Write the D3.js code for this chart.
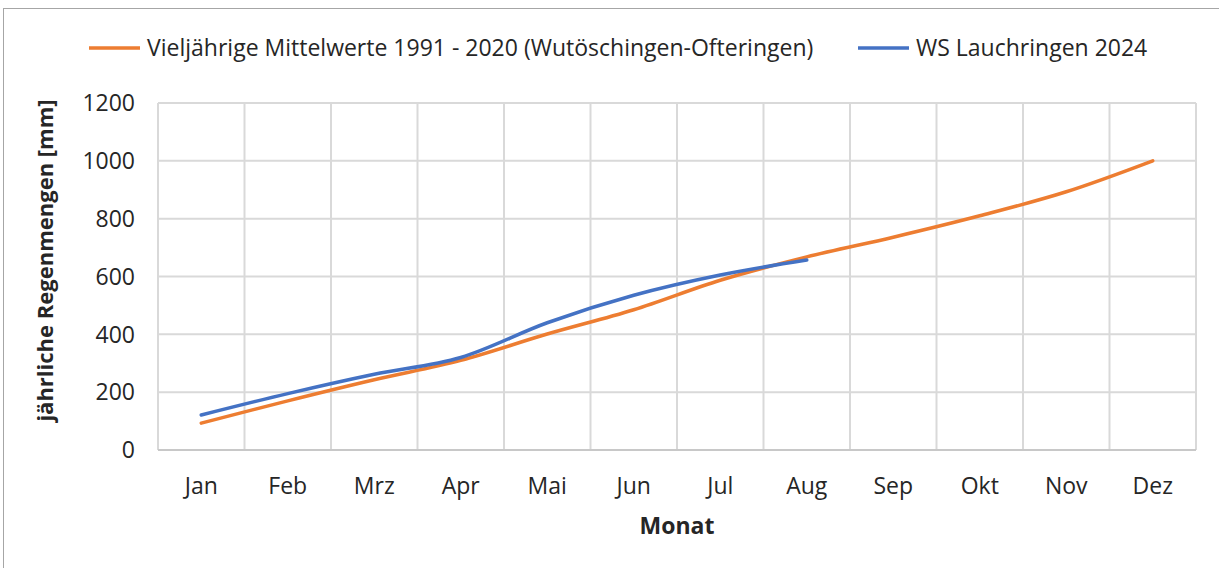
<!DOCTYPE html>
<html>
<head>
<meta charset="utf-8">
<script src="https://cdn.jsdelivr.net/npm/d3@7"></script>
<style>
  body { margin: 0; background: #fff; }
  svg { display: block; font-family: "Open Sans", sans-serif; }
</style>
</head>
<body>
<script>
var months = ["Jan", "Feb", "Mrz", "Apr", "Mai", "Jun", "Jul", "Aug", "Sep", "Okt", "Nov", "Dez"];
var mittelwerte = [93, 170, 243, 310, 401, 485, 587, 668, 736, 810, 893, 1000];
var lauchringen2024 = [121, 195, 262, 320, 440, 535, 605, 657];
var yTicks = [0, 200, 400, 600, 800, 1000, 1200];
var seriesNames = ["Vieljährige Mittelwerte 1991 - 2020 (Wutöschingen-Ofteringen)", "WS Lauchringen 2024"];
var seriesColors = ["#ED7D31", "#4472C4"];

var width = 1219, height = 568;
var plotLeft = 158, plotRight = 1196, plotTop = 103, plotBottom = 450;
var fontSize = "23px";

var svg = d3.select("body").append("svg")
	.attr("width", width)
	.attr("height", height);

// chart frame
svg.append("rect")
	.attr("x", 3.5).attr("y", 8.5)
	.attr("width", width + 10).attr("height", height + 10)
	.style("fill", "none").style("stroke", "#a6a6a6").style("stroke-width", 1);

var x = d3.scaleBand().domain(months).range([plotLeft, plotRight]);
var y = d3.scaleLinear().domain([0, 1200]).range([plotBottom, plotTop]);

// horizontal grid
svg.append("g").selectAll("line")
	.data(yTicks.filter(function (d) { return d > 0; }))
	.enter().append("line")
	.attr("x1", plotLeft).attr("x2", plotRight)
	.attr("y1", function (d) { return y(d); })
	.attr("y2", function (d) { return y(d); })
	.style("stroke", "#d9d9d9").style("stroke-width", 2);

// vertical grid at category boundaries
var bounds = months.map(function (m) { return x(m); }).concat([plotRight]);
svg.append("g").selectAll("line")
	.data(bounds)
	.enter().append("line")
	.attr("x1", function (d) { return d; }).attr("x2", function (d) { return d; })
	.attr("y1", plotTop).attr("y2", plotBottom)
	.style("stroke", "#d9d9d9").style("stroke-width", 2);

// x axis line
svg.append("line")
	.attr("x1", plotLeft).attr("x2", plotRight)
	.attr("y1", plotBottom).attr("y2", plotBottom)
	.style("stroke", "#c8c8c8").style("stroke-width", 2);

// y tick labels
svg.append("g").selectAll("text")
	.data(yTicks)
	.enter().append("text")
	.attr("x", 135)
	.attr("y", function (d) { return y(d); })
	.attr("dy", "0.36em")
	.style("text-anchor", "end")
	.style("font-size", fontSize)
	.style("fill", "#262626")
	.text(function (d) { return d; });

// x tick labels
svg.append("g").selectAll("text")
	.data(months)
	.enter().append("text")
	.attr("x", function (d) { return x(d) + x.bandwidth() / 2; })
	.attr("y", 494)
	.style("text-anchor", "middle")
	.style("font-size", fontSize)
	.style("fill", "#262626")
	.text(function (d) { return d; });

// axis titles
svg.append("text")
	.attr("x", (plotLeft + plotRight) / 2).attr("y", 534)
	.style("text-anchor", "middle")
	.style("font-size", fontSize).style("font-weight", "bold")
	.style("fill", "#262626")
	.text("Monat");

svg.append("text")
	.attr("transform", "translate(53," + ((plotTop + plotBottom) / 2 - 16) + ") rotate(-90)")
	.style("text-anchor", "middle")
	.style("font-size", "22px").style("font-weight", "bold")
	.style("fill", "#262626")
	.text("jährliche Regenmengen [mm]");

// lines
var line = d3.line()
	.x(function (d, i) { return x(months[i]) + x.bandwidth() / 2; })
	.y(function (d) { return y(d); })
	.curve(d3.curveCatmullRom.alpha(0));

[mittelwerte, lauchringen2024].forEach(function (s, i) {
	svg.append("path")
		.datum(s)
		.attr("d", line)
		.style("fill", "none")
		.style("stroke", seriesColors[i])
		.style("stroke-width", 3.5)
		.style("stroke-linecap", "round");
});

// legend
var legendX = [89, 858];
var legend = svg.selectAll("g.legend")
	.data(seriesNames)
	.enter().append("g")
	.attr("class", "legend")
	.attr("transform", function (d, i) { return "translate(" + legendX[i] + ", 48)"; });

legend.append("line")
	.attr("x1", 0).attr("x2", 51)
	.style("stroke", function (d, i) { return seriesColors[i]; })
	.style("stroke-width", 3.5);

legend.append("text")
	.attr("x", 58)
	.attr("dy", "0.36em")
	.style("font-size", fontSize)
	.style("fill", "#262626")
	.text(function (d) { return d; });
</script>
</body>
</html>
